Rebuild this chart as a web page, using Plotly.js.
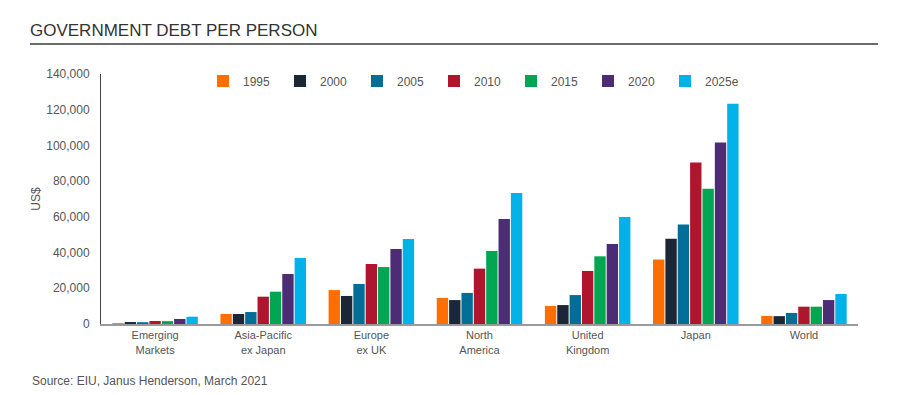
<!DOCTYPE html>
<html>
<head>
<meta charset="utf-8">
<script src="https://cdn.plot.ly/plotly-3.0.1.min.js"></script>
<style>
html,body{margin:0;padding:0;background:#fff;}
#chart{width:897px;height:395px;}
</style>
</head>
<body>
<div id="chart"></div>
<script>
const categories = ["Emerging<br>Markets", "Asia-Pacific<br>ex Japan", "Europe<br>ex UK", "North<br>America", "United<br>Kingdom", "Japan", "World"];
const years = ["1995", "2000", "2005", "2010", "2015", "2020", "2025e"];
const colors = ["#FF6E00", "#1B2636", "#006E96", "#B0152E", "#00A651", "#4B2C75", "#00B2E8"];

const v1995  = [500,  5600, 19000, 14600, 10100, 36100, 4500];
const v2000  = [1100, 5600, 15700, 13400, 10600, 47800, 4400];
const v2005  = [1000, 6700, 22400, 17400, 16200, 55700, 6200];
const v2010  = [1700, 15300, 33600, 31000, 29700, 90500, 9700];
const v2015  = [1600, 18100, 31900, 40900, 37900, 75800, 9700];
const v2020  = [2800, 28000, 42000, 58800, 44800, 101600, 13400];
const v2025e = [4100, 37000, 47600, 73400, 59900, 123400, 16800];

const series = [v1995, v2000, v2005, v2010, v2015, v2020, v2025e];

const traces = series.map((vals, i) => ({
  type: "bar",
  name: years[i],
  x: categories,
  y: vals,
  marker: {color: colors[i], line: {width: 0}},
  hoverinfo: "skip"
}));

const layout = {
  width: 897,
  height: 395,
  paper_bgcolor: "#fff",
  plot_bgcolor: "#fff",
  margin: {l: 101, r: 39, t: 74, b: 71, pad: 0},
  font: {family: "Liberation Sans, Arial, sans-serif", color: "#555", size: 12},
  title: {
    text: "GOVERNMENT DEBT PER PERSON",
    x: 30/897, xanchor: "left",
    y: 1 - 30/395, yanchor: "middle",
    font: {family: "Liberation Sans, Arial, sans-serif", size: 17, color: "#333"}
  },
  barmode: "group",
  bargap: 0.2,
  bargroupgap: 0.08,
  showlegend: true,
  legend: {
    orientation: "h",
    x: (203 - 101) / 757, xanchor: "left",
    y: 1.03, yanchor: "top",
    entrywidth: 32, entrywidthmode: "pixels",
    font: {size: 12, color: "#555"},
    bgcolor: "rgba(0,0,0,0)",
    traceorder: "normal",
    itemclick: false
  },
  xaxis: {
    type: "category",
    showgrid: false,
    zeroline: false,
    showline: true,
    linecolor: "#9a9a9a",
    linewidth: 2,
    ticks: "",
    tickfont: {size: 11, color: "#555"},
    fixedrange: true
  },
  yaxis: {
    range: [0, 140000],
    tickvals: [0, 20000, 40000, 60000, 80000, 100000, 120000, 140000],
    ticktext: ["0", "20,000", "40,000", "60,000", "80,000", "100,000", "120,000", "140,000"],
    showgrid: false,
    zeroline: false,
    showline: true,
    linecolor: "#444",
    linewidth: 1,
    ticks: "",
    ticklabelstandoff: 8,
    tickfont: {size: 12, color: "#555"},
    title: {text: "US$", font: {size: 12, color: "#555"}, standoff: 3},
    fixedrange: true
  },
  shapes: [{
    type: "line", xref: "paper", yref: "paper",
    x0: (30 - 101) / 757, x1: (878 - 101) / 757,
    y0: (324 - 44) / 250, y1: (324 - 44) / 250,
    line: {color: "#6b6b6b", width: 2}
  }],
  annotations: [{
    text: "Source: EIU, Janus Henderson, March 2021",
    xref: "paper", yref: "paper",
    x: (30 - 101) / 757, xanchor: "left",
    y: (324 - 381) / 250, yanchor: "middle",
    showarrow: false,
    font: {size: 12, color: "#555"}
  }]
};

Plotly.newPlot("chart", traces, layout, {displayModeBar: false, staticPlot: true});
</script>
</body>
</html>
